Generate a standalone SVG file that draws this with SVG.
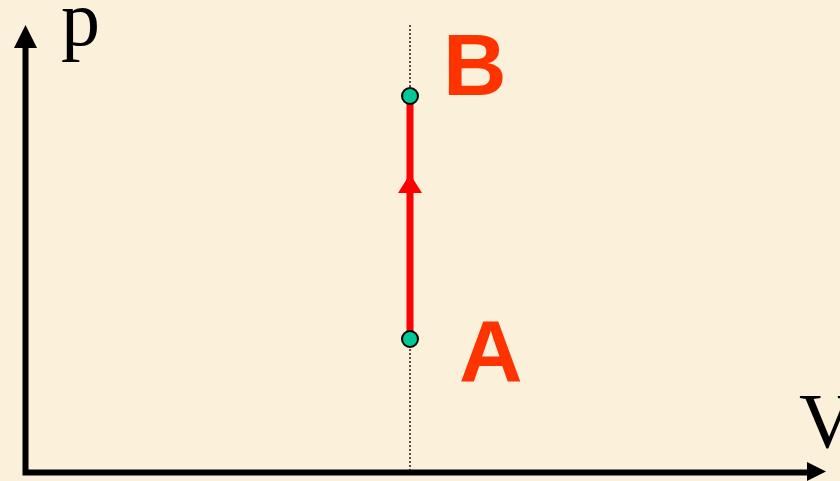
<svg xmlns="http://www.w3.org/2000/svg" width="840" height="481" viewBox="0 0 840 481">
<style>
.axis{stroke:#000;stroke-width:6;fill:none}
.lbl{font-family:"Liberation Serif",serif;font-size:78px;fill:#000}
.pt{font-family:"Liberation Sans",Arial,sans-serif;font-weight:bold;font-size:88px;fill:#ff3300}
.node{fill:#00c896;stroke:#000;stroke-width:2}
</style>
<rect width="840" height="481" fill="#fbf1da"/>
<g id="axes">
<path class="axis" d="M25.5,46 V472.5 H810"/>
<polygon points="25.5,25 14,48 37,48" fill="#000"/>
<polygon points="826,471.5 807,462 807,481" fill="#000"/>
<text class="lbl" x="61" y="45">p</text>
<text class="lbl" x="799" y="447">V</text>
</g>
<g id="connectors">
<line x1="410" y1="25" x2="410" y2="470" stroke="#000" stroke-width="1.3" stroke-dasharray="2,2"/>
<line x1="410" y1="339" x2="410" y2="96" stroke="#ff0000" stroke-width="7"/>
<polygon points="410,174 398,193 422,193" fill="#ff0000"/>
</g>
<g id="nodeB">
<circle class="node" cx="410" cy="96" r="8"/>
<text class="pt" x="443" y="95">B</text>
</g>
<g id="nodeA">
<circle class="node" cx="410" cy="339" r="8"/>
<text class="pt" x="459" y="381">A</text>
</g>
</svg>
